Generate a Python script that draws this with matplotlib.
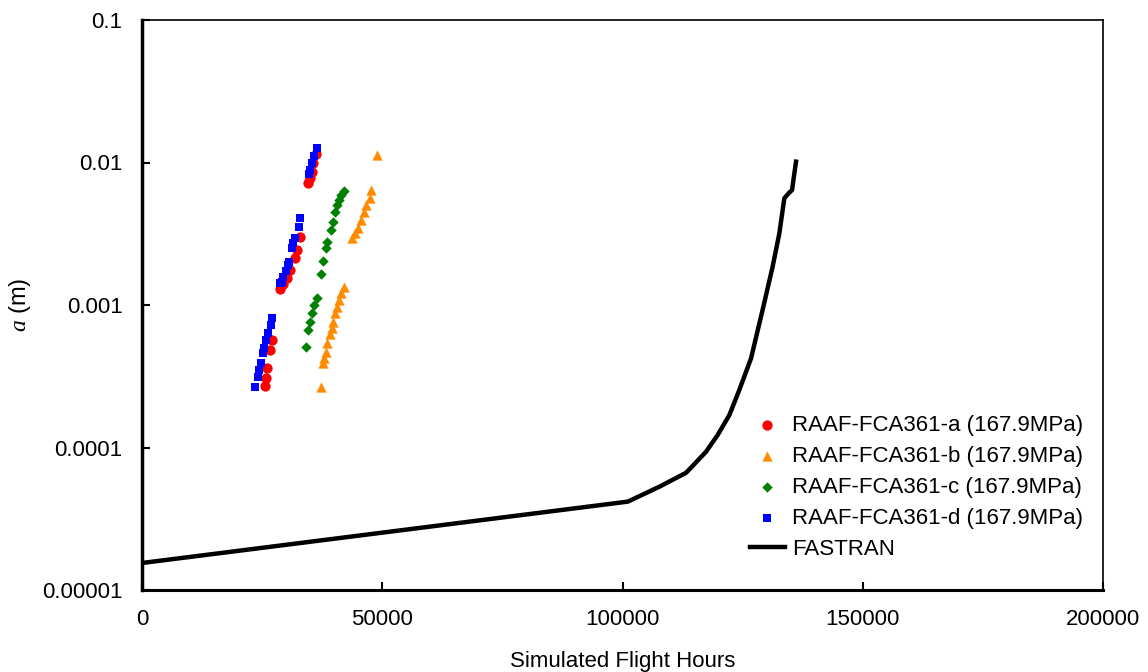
import matplotlib
matplotlib.use("Agg")
import matplotlib.pyplot as plt
import numpy as np

# Data
a_hours = [25572, 25780, 25988, 26611, 27027,
           28690, 29314, 30146, 30769, 31809, 32224, 32848,
           34574, 34927, 35343, 35613, 36175]
a_size = [2.70e-4, 3.08e-4, 3.61e-4, 4.83e-4, 5.68e-4,
          1.294e-3, 1.40e-3, 1.55e-3, 1.76e-3, 2.14e-3, 2.43e-3, 3.00e-3,
          7.15e-3, 7.78e-3, 8.57e-3, 9.86e-3, 1.148e-2]

b_hours = [37214, 37693, 37901, 38254, 38525, 39086, 39440, 39772, 40126,
           40604, 41020, 41519, 41997,
           43722, 44283, 44970, 45530, 46154, 46715, 47401, 47755, 49002]
b_size = [2.64e-4, 3.90e-4, 4.23e-4, 4.70e-4, 5.38e-4, 6.25e-4, 6.85e-4, 7.63e-4, 8.75e-4,
          9.73e-4, 1.084e-3, 1.21e-3, 1.33e-3,
          2.96e-3, 3.18e-3, 3.47e-3, 3.94e-3, 4.52e-3, 5.03e-3, 5.61e-3, 6.41e-3, 1.12e-2]

c_hours = [34033, 34574, 34927, 35281, 35759, 36320,
           37152, 37693, 38254, 38525, 39232, 39772, 40126, 40604, 41020, 41519, 42060]
c_size = [5.09e-4, 6.68e-4, 7.64e-4, 8.75e-4, 1.0e-3, 1.114e-3,
          1.64e-3, 2.04e-3, 2.50e-3, 2.78e-3, 3.36e-3, 3.84e-3, 4.52e-3, 5.04e-3, 5.46e-3, 5.92e-3, 6.34e-3]

d_hours = [23493, 24179, 24387, 24678, 25094, 25364, 25780, 26133, 26757, 26965,
           28690, 29044, 29376, 29938, 30416, 30624, 31123, 31456, 31809, 32640, 32848,
           34719, 34927, 35281, 35759, 36320]
d_size = [2.67e-4, 3.14e-4, 3.50e-4, 3.90e-4, 4.58e-4, 4.97e-4, 5.68e-4, 6.32e-4, 7.24e-4, 8.07e-4,
          1.425e-3, 1.46e-3, 1.58e-3, 1.72e-3, 1.91e-3, 2.01e-3, 2.51e-3, 2.72e-3, 2.94e-3, 3.54e-3, 4.08e-3,
          8.30e-3, 8.85e-3, 9.86e-3, 1.112e-2, 1.259e-2]

fastran_hours = [0, 101102, 107692, 113243, 117401, 119813, 122245, 124324, 126757,
                 129314, 131247, 132640, 133680, 134574, 135280, 136112]
fastran_size = [1.547e-5, 4.17e-5, 5.31e-5, 6.65e-5, 9.35e-5, 1.225e-4, 1.69e-4, 2.54e-4, 4.23e-4,
                9.73e-4, 1.86e-3, 3.18e-3, 5.61e-3, 6.08e-3, 6.41e-3, 1.014e-2]

labels = ["RAAF-FCA361-a (167.9MPa)", "RAAF-FCA361-b (167.9MPa)",
          "RAAF-FCA361-c (167.9MPa)", "RAAF-FCA361-d (167.9MPa)", "FASTRAN"]
x_ticks = [0, 50000, 100000, 150000, 200000]
y_ticks = [1e-5, 1e-4, 1e-3, 1e-2, 1e-1]
y_tick_labels = ["0.00001", "0.0001", "0.001", "0.01", "0.1"]

plt.rcParams['font.family'] = ['Liberation Sans', 'DejaVu Sans']
plt.rcParams['mathtext.fontset'] = 'custom'
plt.rcParams['mathtext.it'] = 'Liberation Serif:italic'
plt.rcParams['mathtext.rm'] = 'Liberation Sans'

fig = plt.figure(figsize=(11.48, 6.72), dpi=100)
ax = fig.add_axes([142/1148, 1 - 590/672, (1103-142)/1148, (590-20)/672])

ax.scatter(a_hours, a_size, marker='o', s=55, color='#FF0000', linewidths=0, label=labels[0], zorder=3)
ax.scatter(b_hours, b_size, marker='^', s=55, color='#FF8C00', linewidths=0, label=labels[1], zorder=3)
ax.scatter(c_hours, c_size, marker='D', s=28, color='#008000', linewidths=0, label=labels[2], zorder=3)
ax.scatter(d_hours, d_size, marker='s', s=26, color='#0000FF', linewidths=0, label=labels[3], zorder=4)
ax.plot(fastran_hours, fastran_size, color='black', lw=3.2, label=labels[4], zorder=2)

ax.set_yscale('log')
ax.set_xlim(0, 200000)
ax.set_ylim(1e-5, 1e-1)
ax.set_xticks(x_ticks)
ax.set_xticklabels([str(v) for v in x_ticks])
ax.set_yticks(y_ticks)
ax.set_yticklabels(y_tick_labels)
ax.yaxis.set_minor_locator(matplotlib.ticker.NullLocator())
ax.tick_params(axis='both', direction='in', length=6, width=1.5, labelsize=16, colors='black')
ax.tick_params(axis='x', pad=14)
ax.tick_params(axis='y', pad=14)

ax.spines['left'].set_linewidth(2.5)
ax.spines['bottom'].set_linewidth(2.2)
ax.spines['top'].set_linewidth(1.2)
ax.spines['right'].set_linewidth(1.2)

ax.set_xlabel("Simulated Flight Hours", fontsize=16, labelpad=15)
ax.set_ylabel(r"$a$ (m)", fontsize=17)
ax.yaxis.set_label_coords(-0.113, 0.5)

leg = ax.legend(loc='lower right', frameon=False, fontsize=16, markerscale=1.0,
                handlelength=1.6, handletextpad=0.3, labelspacing=0.45,
                bbox_to_anchor=(1.0, 0.0175))

fig.savefig("out.png", dpi=100)
